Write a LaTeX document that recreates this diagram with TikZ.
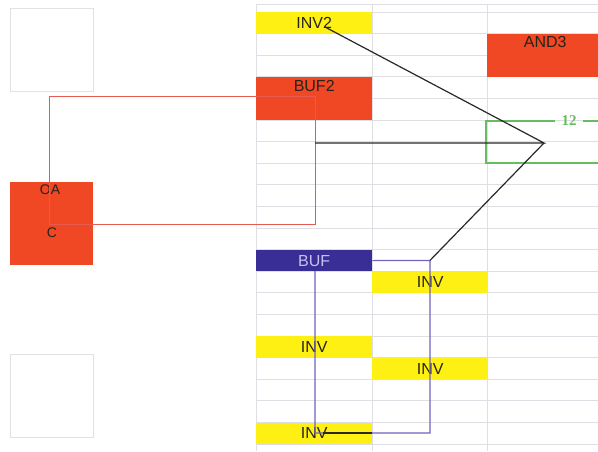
\documentclass[tikz,border=0pt]{standalone}
\usepackage{fontspec}
\setmainfont{Liberation Sans}
\newfontfamily\netfont{Liberation Serif}
\usetikzlibrary{positioning, calc}
\definecolor{cellyel}{RGB}{255,240,20}
\definecolor{cellred}{RGB}{240,72,36}
\definecolor{cellblue}{RGB}{56,46,150}
\definecolor{gridgray}{RGB}{222,222,228}
\definecolor{padgray}{RGB}{226,226,226}
\definecolor{rednet}{RGB}{232,90,80}
\definecolor{bluenet}{RGB}{110,100,190}
\definecolor{darknet}{RGB}{40,40,40}
\definecolor{netgreen}{RGB}{100,190,95}
\definecolor{txtdark}{RGB}{40,35,25}

\begin{document}
\begin{tikzpicture}[x=1pt, y=-1pt,
    cell/.style={anchor=north west, minimum width=116pt, minimum height=21.6pt, inner sep=0pt, text=txtdark, font=\fontsize{16}{18}\selectfont},
    tallcell/.style={cell, minimum height=43.2pt},
    toplbl/.style={anchor=north, inner sep=3pt, text=txtdark, font=\fontsize{16}{18}\selectfont},
    pad/.style={anchor=north west, draw=padgray, minimum size=83pt, inner sep=0pt},
    pinlbl/.style={text=txtdark, inner sep=0pt, font=\fontsize{14}{16}\selectfont},
    gridline/.style={gridgray, line width=1pt},
    redwire/.style={rednet, line width=1pt},
    bluewire/.style={bluenet, line width=1.2pt},
    blkwire/.style={darknet, line width=1.2pt},
    grnbox/.style={netgreen, line width=2pt}
  ]
  \fill[white] (0,0) rectangle (598,451);
  \useasboundingbox (0,0) rectangle (598,451);

  % grid of rows
  \foreach \gx in {256,372,487}
    \draw[gridline] (\gx,4) -- (\gx,451);
  \draw[gridline] (256,4) -- (598,4);
  \foreach \k in {0,...,20}
    \draw[gridline] (256,12+21.6*\k) -- (598,12+21.6*\k);

  % pads
  \node[pad] (pada) at (10,8) {};
  \node[pad, fill=cellred, draw=none] (padb) at (10,182) {};
  \node[pad] (padc) at (10,354) {};
  \node[pinlbl] (oa) at (50,190) {OA};
  \node[pinlbl] (cpin) at (52,233) {C};

  % cells
  \node[cell, fill=cellyel] (inv2) at (256,12) {INV2};
  \node[tallcell, fill=cellred, label={[toplbl]north:AND3}] (and3) at (487,33.6) {};
  \node[tallcell, fill=cellred, label={[toplbl]north:BUF2}] (buf2) at (256,76.8) {};
  \node[cell, fill=cellblue, text={rgb,255:red,200;green,192;blue,240}] (buf) at (256,249.6) {BUF};
  \node[cell, fill=cellyel] (inva) at (372,271.2) {INV};
  \node[cell, fill=cellyel] (invb) at (256,336) {INV};
  \node[cell, fill=cellyel] (invc) at (372,357.6) {INV};
  \node[cell, fill=cellyel] (invd) at (256,422.4) {INV};

  % net box
  \node[text=netgreen, inner xsep=6pt, inner ysep=0pt, font=\netfont\bfseries\fontsize{15}{16}\selectfont] (netno) at (569,121) {12};
  \draw[grnbox] (netno.west) -| (486,163) -- (598,163);
  \draw[grnbox] (netno.east) -- (598,121);

  \coordinate (b2pin) at (315,96);
  \coordinate (b2out) at (315,143);
  \coordinate (ocorner) at (49,224);
  \coordinate (hub) at (544,143);
  \coordinate (inv2pin) at (325,27);
  \coordinate (bufcorner) at (430,260.4);
  \coordinate (botcorner) at (430,433);
  \coordinate (bufpin) at (315,271.2);
  \coordinate (invdpin) at (323,433);

  % wires
  \draw[redwire] (b2pin) -| (ocorner) -| (b2pin);
  \draw[bluewire] (buf.east) -- (bufcorner) -- (botcorner) -- (botcorner -| bufpin) -- (bufpin);
  \draw[blkwire] (invdpin) -- (invdpin -| invd.east);
  \draw[blkwire] (inv2pin) -- (hub) -- (b2out);
  \draw[blkwire] (hub) -- (bufcorner);
\end{tikzpicture}
\end{document}
